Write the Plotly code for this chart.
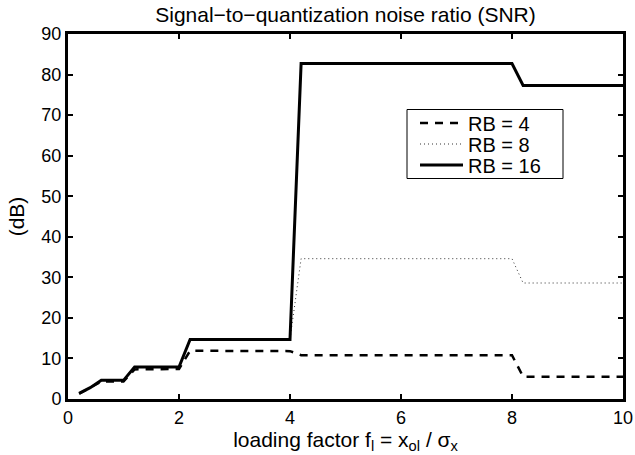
import plotly.graph_objects as go

x = [0.2, 0.4, 0.6, 0.8, 1.0, 1.2, 1.4, 1.6, 1.8, 2.0,
     2.2, 2.4, 2.6, 2.8, 3.0, 3.2, 3.4, 3.6, 3.8, 4.0,
     4.2, 4.4, 4.6, 4.8, 5.0, 5.2, 5.4, 5.6, 5.8, 6.0,
     6.2, 6.4, 6.6, 6.8, 7.0, 7.2, 7.4, 7.6, 7.8, 8.0,
     8.2, 8.4, 8.6, 8.8, 9.0, 9.2, 9.4, 9.6, 9.8, 10.0]

snr_rb4 = [1.3, 2.7, 4.3, 4.3, 4.3, 7.3, 7.3, 7.3, 7.3, 7.4,
           11.9, 11.9, 11.9, 11.9, 11.9, 11.9, 11.9, 11.9, 11.9, 11.8,
           10.8, 10.8, 10.8, 10.8, 10.8, 10.8, 10.8, 10.8, 10.8, 10.8,
           10.8, 10.8, 10.8, 10.8, 10.8, 10.8, 10.8, 10.8, 10.8, 10.8,
           5.5, 5.5, 5.5, 5.5, 5.5, 5.5, 5.5, 5.5, 5.5, 5.5]

snr_rb8 = [1.4, 2.8, 4.6, 4.6, 4.6, 7.9, 7.9, 7.9, 7.9, 7.9,
           14.7, 14.7, 14.7, 14.7, 14.7, 14.7, 14.7, 14.7, 14.7, 14.7,
           34.6, 34.6, 34.6, 34.6, 34.6, 34.6, 34.6, 34.6, 34.6, 34.6,
           34.6, 34.6, 34.6, 34.6, 34.6, 34.6, 34.6, 34.6, 34.6, 34.6,
           28.6, 28.6, 28.6, 28.6, 28.6, 28.6, 28.6, 28.6, 28.6, 28.6]

snr_rb16 = [1.4, 2.8, 4.6, 4.6, 4.6, 7.9, 7.9, 7.9, 7.9, 7.9,
            14.7, 14.7, 14.7, 14.7, 14.7, 14.7, 14.7, 14.7, 14.7, 14.7,
            82.7, 82.7, 82.7, 82.7, 82.7, 82.7, 82.7, 82.7, 82.7, 82.7,
            82.7, 82.7, 82.7, 82.7, 82.7, 82.7, 82.7, 82.7, 82.7, 82.7,
            77.3, 77.3, 77.3, 77.3, 77.3, 77.3, 77.3, 77.3, 77.3, 77.3]

series_names = ["RB = 4", "RB = 8", "RB = 16"]
x_ticks = [0, 2, 4, 6, 8, 10]
y_ticks = [0, 10, 20, 30, 40, 50, 60, 70, 80, 90]

FONT = "Liberation Sans, Arial, Helvetica, sans-serif"
W, H = 635, 455
L, R, T, B = 68, 12, 34, 56
PW, PH = W - L - R, H - T - B


def px_x(p):
    return (p - L) / PW


def px_y(p):
    return 1 - (p - T) / PH


fig = go.Figure()
fig.add_trace(go.Scatter(x=x, y=snr_rb4, mode="lines", name=series_names[0], legend="legend",
                         line=dict(color="black", width=2.5, dash="8px,7px")))
fig.add_trace(go.Scatter(x=x, y=snr_rb8, mode="lines", name=series_names[1], legend="legend2",
                         line=dict(color="#333333", width=1, dash="1px,3px")))
fig.add_trace(go.Scatter(x=x, y=snr_rb16, mode="lines", name=series_names[2], legend="legend3",
                         line=dict(color="black", width=3)))

axis_common = dict(
    showgrid=False, zeroline=False, showline=True, linecolor="black", automargin=False,
    linewidth=3, mirror="ticks", ticks="inside", ticklen=5, tickwidth=2,
    tickcolor="black", tickfont=dict(size=18, color="black", family=FONT),
)

leg_common = dict(xanchor="left", yanchor="middle", bgcolor="rgba(0,0,0,0)",
                  borderwidth=0, font=dict(size=20, family=FONT, color="black"),
                  itemwidth=43)

fig.update_layout(
    width=W, height=H,
    margin=dict(l=L, r=R, t=T, b=B),
    paper_bgcolor="white", plot_bgcolor="white",
    font=dict(family=FONT, color="black", size=18),
    title=dict(text="Signal\u2212to\u2212quantization noise ratio (SNR)",
               x=0.5, xref="paper", xanchor="center", y=1 - 15 / H, yanchor="middle",
               font=dict(size=21)),
    xaxis=dict(range=[0, 10], tickvals=x_ticks, ticktext=[str(v) for v in x_ticks],
               title=dict(text="loading factor f<sub>l</sub> = x<sub>ol</sub> / \u03c3<sub>x</sub>",
                          standoff=0, font=dict(size=21)),
               **axis_common),
    yaxis=dict(range=[0, 90], tickvals=y_ticks, ticktext=[str(v) for v in y_ticks],
               title=dict(text="(dB)", standoff=12, font=dict(size=21)),
               **axis_common),
    legend=dict(x=px_x(415), y=px_y(123), **leg_common),
    legend2=dict(x=px_x(415), y=px_y(144), **leg_common),
    legend3=dict(x=px_x(415), y=px_y(165), **leg_common),
    showlegend=True,
    shapes=[dict(type="rect", xref="paper", yref="paper",
                 x0=px_x(407), x1=px_x(563), y0=px_y(178.5), y1=px_y(109.5),
                 line=dict(color="black", width=1), fillcolor="rgba(0,0,0,0)", layer="above")],
)

fig.write_html("out.html", config={"displayModeBar": False},
               post_script="document.body.style.margin='0px';document.body.style.overflow='hidden';")
